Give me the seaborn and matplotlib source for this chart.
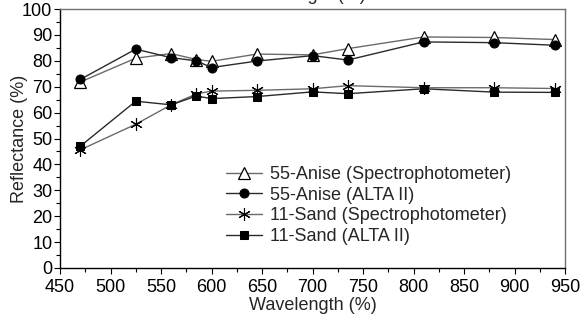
import matplotlib
matplotlib.use("Agg")
import matplotlib.pyplot as plt
from matplotlib.ticker import MultipleLocator
import seaborn as sns
import pandas as pd

sns.set_style("white")
plt.rcParams['font.family'] = ['Liberation Sans', 'DejaVu Sans']

wavelength = [470, 525, 560, 585, 600, 645, 700, 735, 810, 880, 940]
anise_spectro = [71.8, 81.0, 82.8, 80.5, 79.8, 82.6, 82.3, 84.7, 89.2, 89.0, 88.2]
anise_alta = [72.8, 84.5, 81.2, 80.0, 77.4, 79.9, 82.0, 80.3, 87.3, 87.0, 86.0]
sand_spectro = [45.6, 55.5, 63.0, 67.2, 68.3, 68.6, 69.2, 70.4, 69.6, 69.6, 69.3]
sand_alta = [47.0, 64.4, 63.0, 66.4, 65.4, 66.2, 68.0, 67.3, 69.2, 67.9, 67.8]

labels = ["55-Anise (Spectrophotometer)", "55-Anise (ALTA II)",
          "11-Sand (Spectrophotometer)", "11-Sand (ALTA II)"]
series = [anise_spectro, anise_alta, sand_spectro, sand_alta]

FS = 13

fig = plt.figure(figsize=(5.84, 3.22), dpi=100)
ax = fig.add_axes([60 / 584, 1 - 268 / 322, 505 / 584, 259 / 322])

styles = [
    dict(marker="^", mfc="white", mec="black", ms=8, mew=0.9, color="#6a6a6a"),
    dict(marker="o", mfc="black", mec="black", ms=6.5, color="#2a2a2a"),
    dict(marker=(6, 2, 0), mfc="black", mec="black", ms=9, mew=0.8, color="#6a6a6a"),
    dict(marker="s", mfc="black", mec="black", ms=6, color="#2a2a2a"),
]

for vals, lab, st in zip(series, labels, styles):
    df = pd.DataFrame({"Wavelength": wavelength, "Reflectance": vals})
    sns.lineplot(data=df, x="Wavelength", y="Reflectance", ax=ax, label=lab,
                 lw=1.0, **st)

ax.set_xlim(450, 950)
ax.set_ylim(0, 100)
ax.xaxis.set_major_locator(MultipleLocator(50))
ax.xaxis.set_minor_locator(MultipleLocator(25))
ax.yaxis.set_major_locator(MultipleLocator(10))
ax.yaxis.set_minor_locator(MultipleLocator(5))
ax.tick_params(which="both", direction="out", colors="black", labelsize=FS,
               bottom=True, left=True)
ax.tick_params(axis="y", pad=1.5)
ax.tick_params(axis="x", pad=4)
ax.tick_params(which="major", length=4, width=0.8)
ax.tick_params(which="minor", length=3, width=0.8)

for side in ["left", "bottom"]:
    ax.spines[side].set_color("black")
    ax.spines[side].set_linewidth(1.0)
for side in ["top", "right"]:
    ax.spines[side].set_color("#707070")
    ax.spines[side].set_linewidth(1.0)

ax.set_xlabel("Wavelength (%)", fontsize=FS, va="center")
ax.set_ylabel("Reflectance (%)", fontsize=FS, va="center")
ax.xaxis.set_label_coords((313 - 60) / 505, -(305 - 268) / 259)
ax.yaxis.set_label_coords((20 - 60) / 505, 0.5)

ax.legend(loc="upper left", bbox_to_anchor=(226 / 584, 1 - 166 / 322),
          bbox_transform=fig.transFigure, frameon=False, fontsize=FS,
          handlelength=2.0, handletextpad=0.45, labelspacing=0.2,
          borderaxespad=0, borderpad=0)

# Chart heading sits at the very top edge of the canvas
fig.text(366 / 584, 1 + 0.5 / 322, "Wavelength (%)", ha="right", va="baseline",
         fontsize=FS)

fig.savefig("out.png", dpi=100)
